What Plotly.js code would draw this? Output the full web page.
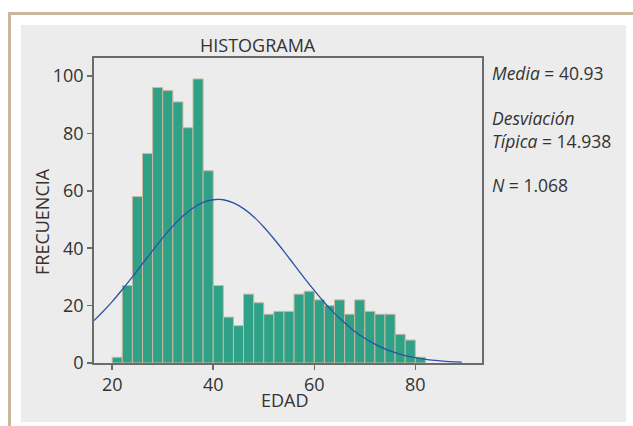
<!DOCTYPE html>
<html>
<head>
<meta charset="utf-8">
<script src="https://cdn.plot.ly/plotly-3.0.1.min.js"></script>
<style>
  html, body { margin: 0; padding: 0; background: #ffffff; }
  #wrap { position: relative; width: 633px; height: 426px; overflow: hidden; background: #ffffff; }
  #frame { position: absolute; left: 8px; top: 12px; width: 700px; height: 500px;
           border-top: 3px solid #c9b89f; border-left: 3px solid #c9b89f; }
  #panel { position: absolute; left: 21px; top: 25px; width: 605px; height: 397px; background: #ececec; }
  #chart { position: absolute; left: 0; top: 0; width: 633px; height: 426px; }
</style>
</head>
<body>
<div id="wrap">
  <div id="frame"></div>
  <div id="panel"></div>
  <div id="chart"></div>
</div>
<script>
// ---- data ----
const binStart = [20,22,24,26,28,30,32,34,36,38,40,42,44,46,48,50,52,54,56,58,60,62,64,66,68,70,72,74,76,78,80];
const counts   = [2,27,58,73,96,95,91,82,99,67,27,16,13,24,21,17,18,18,24,25,22,20,22,17,22,18,17,17,10,8,2];
const binWidth = 2;

// normal curve
const curveX = [16.4,18,20,22,24,26,28,30,32,34,36,38,40,41,42,44,46,48,50,52,54,56,58,60,62,64,66,68,70,72,74,76,78,80,82,84,86,88,89.2];
const curveY = [14.8,17.6,21.4,25.6,30.0,34.6,39.2,43.6,47.7,51.2,54.0,56.0,56.9,57.0,56.9,55.8,53.8,51.0,47.4,43.3,38.9,34.3,29.7,25.3,21.1,17.3,14.0,11.0,8.6,6.6,4.9,3.6,2.6,1.9,1.3,0.9,0.6,0.4,0.3];

const xTicks = [20,40,60,80];
const yTicks = [0,20,40,60,80,100];

const titleText = 'HISTOGRAMA';
const xTitle = 'EDAD';
const yTitle = 'FRECUENCIA';
const statsMedia = '<i>Media</i> = 40.93';
const statsDesv = '<i>Desviación</i><br><i>Típica</i> = 14.938';
const statsN = '<i>N</i> = 1.068';

// ---- chart ----
const FONT = 'Open Sans, sans-serif';
const TXT = '#333333';
const AX = '#6b6b6b';
const FS = 18;

const bars = {
  type: 'bar',
  x: binStart.map(b => b + binWidth / 2),
  y: counts,
  width: binWidth,
  marker: { color: '#2ea187', line: { color: '#c8b9a1', width: 1 } },
  hoverinfo: 'x+y',
  showlegend: false
};

const curve = {
  type: 'scatter',
  mode: 'lines',
  x: curveX,
  y: curveY,
  line: { color: '#2b52a6', width: 1.3, shape: 'spline' },
  showlegend: false
};

// plot area in px: x 94..482, y 58..363
const L = 94, R = 482, T = 58, B = 363;
const px2x = p => (p - L) / (R - L);
const px2y = p => (B - p) / (B - T);
const f = (s) => ({ family: FONT, size: s, color: TXT });

const layout = {
  width: 633, height: 426,
  margin: { l: L, r: 633 - R, t: T, b: 426 - B, pad: 0 },
  paper_bgcolor: 'rgba(0,0,0,0)',
  plot_bgcolor: 'rgba(0,0,0,0)',
  font: f(FS),
  showlegend: false,
  bargap: 0,
  xaxis: {
    range: [16.4, 93.2],
    tickvals: xTicks,
    ticks: 'outside', ticklen: 5, tickwidth: 1.5, tickcolor: AX,
    showline: true, linecolor: AX, linewidth: 1.8, mirror: true,
    showgrid: false, zeroline: false,
    tickfont: f(FS)
  },
  yaxis: {
    range: [0, 106.3],
    tickvals: yTicks,
    ticks: 'outside', ticklen: 5, tickwidth: 1.5, tickcolor: AX,
    showline: true, linecolor: AX, linewidth: 1.8, mirror: true,
    showgrid: false, zeroline: false,
    tickfont: f(FS)
  },
  annotations: [
    { text: titleText, xref: 'paper', yref: 'paper', x: px2x(258), y: px2y(45),
      xanchor: 'center', yanchor: 'middle', showarrow: false, font: f(FS) },
    { text: xTitle, xref: 'paper', yref: 'paper', x: px2x(285), y: px2y(400),
      xanchor: 'center', yanchor: 'middle', showarrow: false, font: f(FS) },
    { text: yTitle, xref: 'paper', yref: 'paper', x: px2x(42), y: px2y(222),
      xanchor: 'center', yanchor: 'middle', textangle: -90, showarrow: false, font: f(FS) },
    { text: statsMedia, xref: 'paper', yref: 'paper', x: px2x(490), y: px2y(73),
      xanchor: 'left', yanchor: 'middle', align: 'left', showarrow: false, font: f(17.5) },
    { text: statsDesv, xref: 'paper', yref: 'paper', x: px2x(490), y: px2y(129.5),
      xanchor: 'left', yanchor: 'middle', align: 'left', showarrow: false, font: f(17.5) },
    { text: statsN, xref: 'paper', yref: 'paper', x: px2x(490), y: px2y(185),
      xanchor: 'left', yanchor: 'middle', align: 'left', showarrow: false, font: f(17.5) }
  ]
};

Plotly.newPlot('chart', [bars, curve], layout, { displayModeBar: false, staticPlot: true });
</script>
</body>
</html>
